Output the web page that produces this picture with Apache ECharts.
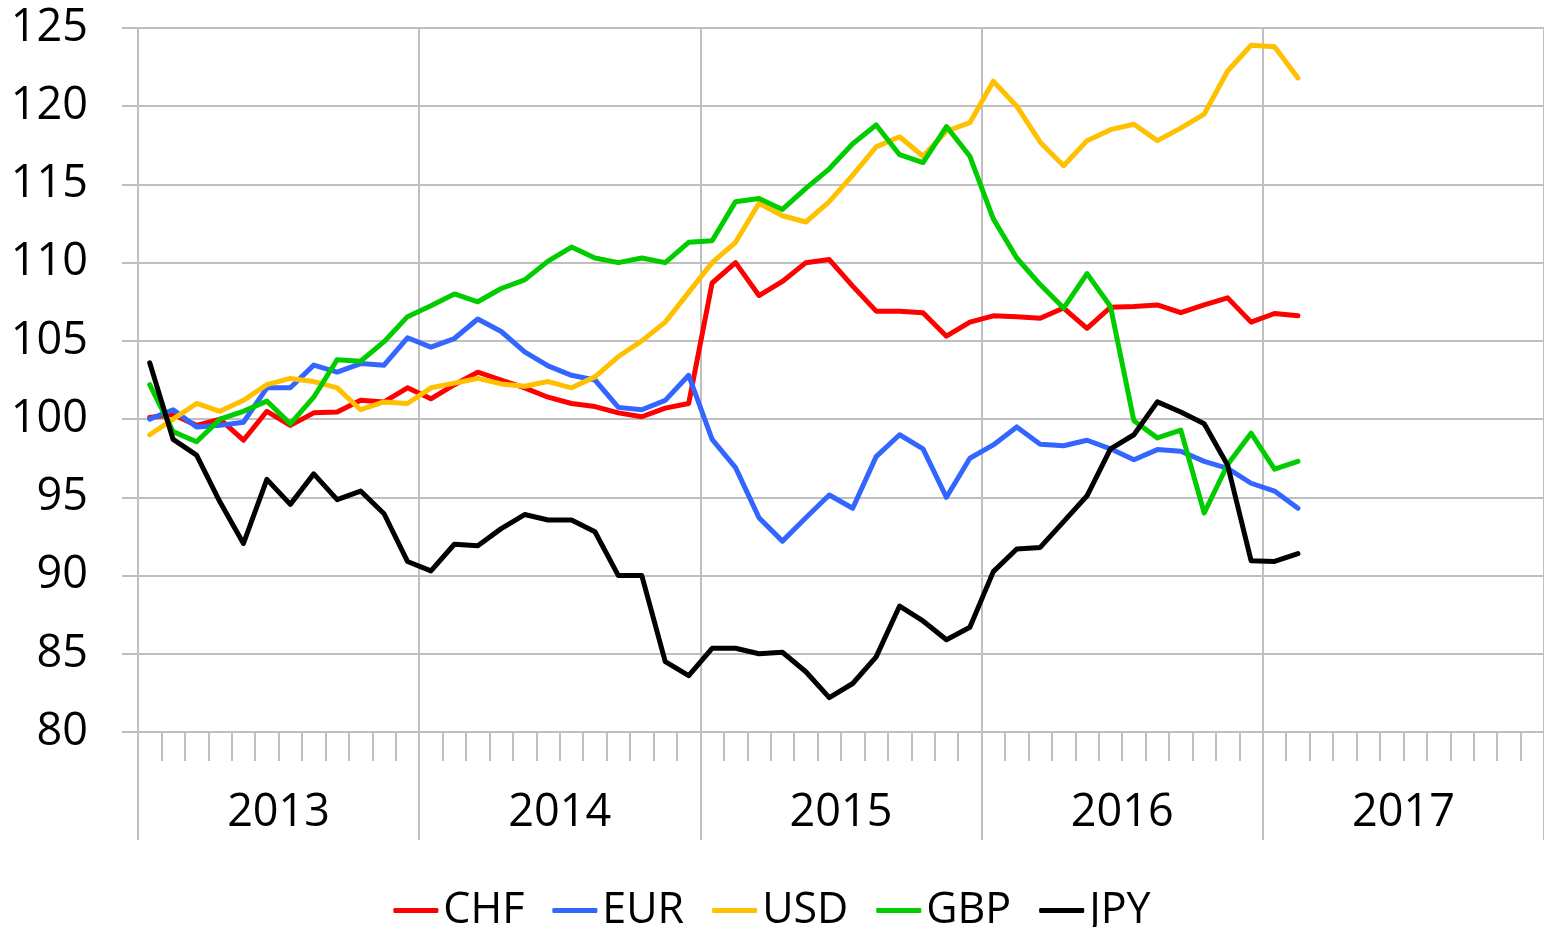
<!DOCTYPE html>
<html>
<head>
<meta charset="utf-8">
<script src="https://cdn.jsdelivr.net/npm/echarts@6/dist/echarts.min.js"></script>
<style>
  html, body { margin: 0; padding: 0; background: #fff; }
  #main { width: 1544px; height: 927px; }
</style>
</head>
<body>
<div id="main"></div>
<script>
// monthly index values, Jan 2013 .. Feb 2017
const years = ["2013", "2014", "2015", "2016", "2017"];
const monthNames = ["01", "02", "03", "04", "05", "06", "07", "08", "09", "10", "11", "12"];

const chf = [100.1, 100.3, 99.6, 100.0, 98.65, 100.5, 99.6, 100.4, 100.45, 101.2,
  101.1, 102.0, 101.3, 102.2, 103.0, 102.5, 102.0, 101.4, 101.0, 100.8,
  100.4, 100.15, 100.7, 101.0, 108.7, 110.0, 107.9, 108.8, 110.0, 110.2,
  108.5, 106.9, 106.9, 106.8, 105.3, 106.2, 106.6, 106.55, 106.45, 107.1,
  105.8, 107.15, 107.2, 107.3, 106.8, 107.3, 107.75, 106.2, 106.75, 106.6];
const eur = [100.0, 100.6, 99.5, 99.6, 99.8, 102.0, 102.0, 103.45, 103.0, 103.55,
  103.45, 105.2, 104.6, 105.15, 106.4, 105.6, 104.3, 103.4, 102.8, 102.5,
  100.75, 100.6, 101.2, 102.8, 98.7, 96.9, 93.7, 92.2, 93.7, 95.15,
  94.3, 97.6, 99.0, 98.1, 95.0, 97.5, 98.35, 99.5, 98.4, 98.3,
  98.65, 98.1, 97.4, 98.05, 97.95, 97.3, 96.85, 95.9, 95.4, 94.3];
const usd = [99.0, 100.0, 101.0, 100.5, 101.2, 102.2, 102.6, 102.4, 102.0, 100.6,
  101.1, 101.0, 102.0, 102.3, 102.6, 102.25, 102.1, 102.4, 102.0, 102.7,
  104.0, 105.0, 106.2, 108.1, 110.0, 111.3, 113.8, 113.0, 112.6, 113.9,
  115.6, 117.4, 118.05, 116.8, 118.4, 118.95, 121.6, 120.0, 117.7, 116.2,
  117.8, 118.5, 118.85, 117.8, 118.6, 119.5, 122.25, 123.9, 123.8, 121.8];
const gbp = [102.2, 99.2, 98.55, 100.0, 100.5, 101.15, 99.7, 101.4, 103.8, 103.7,
  104.95, 106.55, 107.25, 108.0, 107.5, 108.35, 108.9, 110.1, 111.0, 110.3,
  110.0, 110.3, 110.0, 111.3, 111.4, 113.9, 114.1, 113.4, 114.75, 116.0,
  117.6, 118.8, 116.9, 116.4, 118.7, 116.8, 112.8, 110.3, 108.6, 107.1,
  109.3, 107.2, 99.9, 98.8, 99.3, 94.0, 97.1, 99.1, 96.8, 97.3];
const jpy = [103.6, 98.7, 97.7, 94.7, 92.05, 96.15, 94.55, 96.5, 94.85, 95.4,
  93.95, 90.9, 90.3, 92.0, 91.9, 93.0, 93.9, 93.55, 93.55, 92.8,
  90.0, 90.0, 84.5, 83.6, 85.35, 85.35, 85.0, 85.1, 83.85, 82.2,
  83.1, 84.8, 88.05, 87.1, 85.9, 86.7, 90.25, 91.7, 91.8, 93.45,
  95.1, 98.1, 99.0, 101.1, 100.45, 99.7, 97.05, 90.95, 90.9, 91.4];

const seriesNames = ["CHF", "EUR", "USD", "GBP", "JPY"];
const seriesData = [chf, eur, usd, gbp, jpy];
const colors = ["#FF0000", "#3366FF", "#FFC000", "#00CC00", "#000000"];

let months = [];
years.forEach(y => monthNames.forEach(m => months.push(y + "-" + m)));

const gray = "#BFBFBF";
const font = "'Open Sans', sans-serif";

let myChart = echarts.init(document.getElementById("main"));
myChart.setOption({
  animation: false,
  grid: { left: 138, top: 28, width: 1409, height: 704 },
  legend: {
    top: 884,
    left: "center",
    icon: "roundRect",
    itemWidth: 45,
    itemHeight: 5,
    itemGap: 28,
    textStyle: { fontSize: 43, color: "#000", fontFamily: font },
    data: seriesNames
  },
  xAxis: [
    {
      type: "category",
      data: months,
      boundaryGap: true,
      position: "bottom",
      axisLine: { show: true, lineStyle: { color: gray, width: 2 } },
      axisTick: { show: true, interval: 0, length: 29, lineStyle: { color: gray, width: 2 } },
      axisLabel: { show: false },
      splitLine: { show: false }
    },
    {
      type: "category",
      data: years,
      boundaryGap: true,
      position: "bottom",
      axisLine: { show: false },
      axisTick: { show: true, interval: 0, length: 108, lineStyle: { color: gray, width: 2 } },
      axisLabel: { show: true, interval: 0, margin: 59, fontSize: 45, color: "#000", fontFamily: font },
      splitLine: { show: true, interval: 0, lineStyle: { color: gray, width: 2 } }
    }
  ],
  yAxis: {
    type: "value",
    min: 80,
    max: 125,
    interval: 5,
    axisLine: { show: true, lineStyle: { color: gray, width: 2 } },
    axisTick: { show: true, length: 16, lineStyle: { color: gray, width: 2 } },
    axisLabel: { margin: 50, fontSize: 45, color: "#000", fontFamily: font },
    splitLine: { show: true, lineStyle: { color: gray, width: 2 } }
  },
  series: seriesNames.map((name, i) => ({
    name: name,
    type: "line",
    xAxisIndex: 0,
    data: seriesData[i],
    symbol: "none",
    color: colors[i],
    lineStyle: { width: 5, color: colors[i], cap: "round", join: "round" }
  }))
});
</script>
</body>
</html>
